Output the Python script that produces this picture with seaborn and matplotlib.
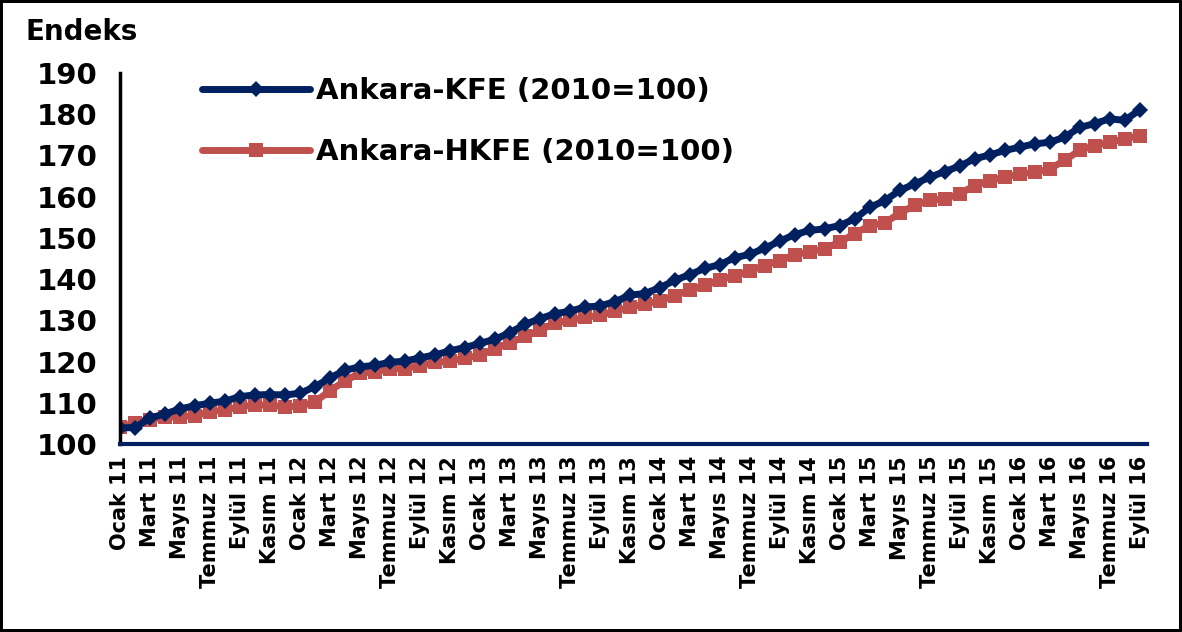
import numpy as np
import pandas as pd
import seaborn as sns
import matplotlib.pyplot as plt

# Aylar ve yillar
ay_adlari = ['Ocak', 'Şubat', 'Mart', 'Nisan', 'Mayıs', 'Haziran',
             'Temmuz', 'Ağustos', 'Eylül', 'Ekim', 'Kasım', 'Aralık']
yillar = ['11', '12', '13', '14', '15', '16']

# Ankara-KFE (2010=100), Ocak 2011 - Eylul 2016
kfe = [103.9, 104.0, 106.3, 107.3, 108.5, 109.3, 109.9, 110.4, 111.5, 111.9, 112.0, 111.9,
       112.3, 113.9, 116.0, 117.9, 118.7, 119.1, 119.8, 120.1, 120.9, 121.6, 122.6, 123.4,
       124.4, 125.4, 127.0, 129.0, 130.4, 131.6, 132.2, 133.2, 133.5, 134.5, 136.1, 136.5,
       137.9, 139.7, 141.1, 142.6, 143.5, 145.2, 146.0, 147.5, 149.2, 150.8, 151.8, 152.2,
       153.0, 154.6, 157.4, 159.0, 161.5, 163.1, 164.7, 166.1, 167.4, 169.2, 170.1, 171.2,
       172.0, 172.8, 173.2, 174.4, 176.8, 177.7, 178.9, 178.5, 181.0]

# Ankara-HKFE (2010=100)
hkfe = [104.1, 105.1, 105.9, 106.5, 106.6, 106.9, 107.8, 108.3, 109.0, 109.5, 109.4, 109.0,
        109.2, 110.2, 112.9, 115.3, 117.2, 117.5, 118.2, 118.3, 119.0, 119.8, 120.1, 120.8,
        121.5, 123.1, 124.5, 126.1, 127.6, 129.3, 130.0, 130.7, 131.2, 132.2, 133.2, 133.9,
        134.7, 136.0, 137.3, 138.5, 139.8, 140.8, 142.0, 143.3, 144.5, 145.9, 146.6, 147.4,
        149.0, 151.0, 153.0, 153.6, 156.0, 157.9, 159.1, 159.5, 160.7, 162.7, 163.9, 164.7,
        165.5, 165.9, 166.7, 168.8, 171.2, 172.4, 173.2, 174.0, 174.8]

etiketler = [f'{a} {y}' for y in yillar for a in ay_adlari][:len(kfe)]
df = pd.DataFrame({'t': np.arange(len(kfe)), 'kfe': kfe, 'hkfe': hkfe})

sns.set_style('white')
plt.rcParams['font.family'] = ['DejaVu Sans']
plt.rcParams['font.weight'] = 'bold'
plt.rcParams['text.color'] = 'black'
plt.rcParams['xtick.labelcolor'] = 'black'
plt.rcParams['ytick.labelcolor'] = 'black'

lacivert = '#002060'
kirmizi = '#C0504D'

fig = plt.figure(figsize=(11.82, 6.32), dpi=100)
fig.patch.set_edgecolor('black')
fig.patch.set_linewidth(3)
ax = fig.add_axes([120 / 1182, 1 - 444 / 632, 1027 / 1182, (444 - 73) / 632])

sns.lineplot(data=df, x='t', y='hkfe', ax=ax, color=kirmizi, marker='s', markersize=10.5,
             markeredgewidth=0, linewidth=5, label='Ankara-HKFE (2010=100)')
sns.lineplot(data=df, x='t', y='kfe', ax=ax, color=lacivert, marker='D', markersize=8.5,
             markeredgewidth=0, linewidth=5, label='Ankara-KFE (2010=100)')

ax.set_xlim(0, len(kfe) - 0.5)
ax.set_ylim(100, 190)
ax.set_yticks(range(100, 191, 10))
ax.set_xticks(df['t'])
ax.set_xticklabels([e if i % 2 == 0 else '' for i, e in enumerate(etiketler)],
                   rotation=90, fontsize=15, fontweight='bold')
ax.tick_params(axis='y', labelsize=21, length=6, width=2, color='black', pad=10, direction='out')
ax.tick_params(axis='x', length=4.5, width=2.2, color=lacivert, pad=4, direction='out')
for lbl in ax.get_yticklabels():
    lbl.set_fontweight('bold')
ax.set_xlabel('')
ax.set_ylabel('')

for s in ['top', 'right']:
    ax.spines[s].set_visible(False)
ax.spines['left'].set_color('black')
ax.spines['left'].set_linewidth(2.5)
ax.spines['bottom'].set_color(lacivert)
ax.spines['bottom'].set_linewidth(3)
ax.spines['bottom'].set_zorder(5)

h, l = ax.get_legend_handles_labels()
ax.legend(h[::-1], l[::-1], loc='upper left', bbox_to_anchor=(0.08, 0.99), frameon=False,
          handlelength=3.7, handletextpad=0.2, labelspacing=1.15,
          borderpad=0, borderaxespad=0, numpoints=1, prop={'weight': 'bold', 'size': 21})

fig.text(25 / 1182, 1 - 32 / 632, 'Endeks', fontsize=20, fontweight='bold', va='center', ha='left')

fig.savefig('out.png', dpi=100, edgecolor=fig.get_edgecolor())
